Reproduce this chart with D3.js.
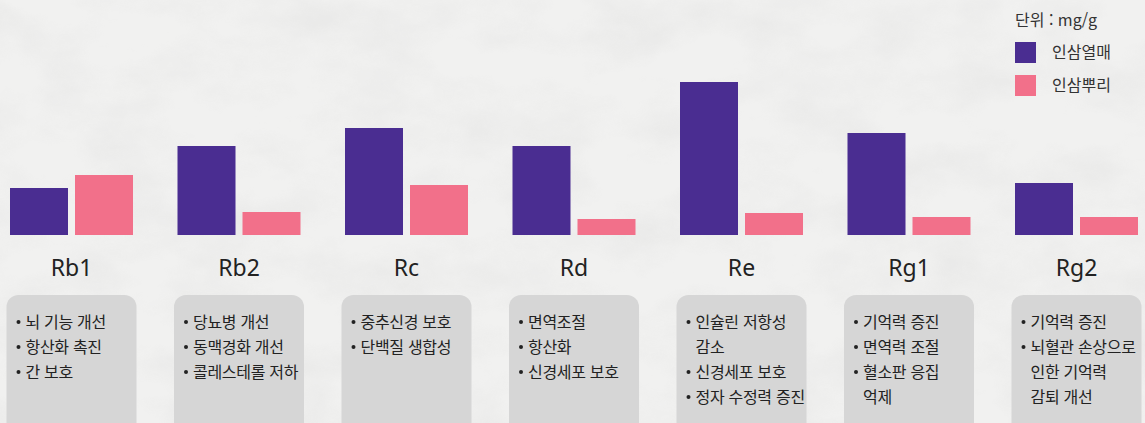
<!DOCTYPE html>
<html lang="ko">
<head>
    <meta charset="UTF-8">
    <title>인삼 부위별 진세노사이드 함량</title>
    <script src="https://d3js.org/d3.v7.min.js"></script>
    <style>
        html, body { margin: 0; padding: 0; background: #efefee; }
        svg { display: block; font-family: "Noto Sans CJK KR", "Noto Sans", sans-serif; }
    </style>
</head>
<body>
    <div id="chart"></div>
    <script>
        // Ginsenoside types
        const categories = ["Rb1", "Rb2", "Rc", "Rd", "Re", "Rg1", "Rg2"];
        const seriesNames = ["인삼열매", "인삼뿌리"];
        // mg/g
        const berryValues = [4.7, 8.9, 10.7, 8.9, 15.3, 10.2, 5.2];
        const rootValues = [6.0, 2.3, 5.0, 1.6, 2.2, 1.8, 1.8];
        const unitLabel = "단위 : mg/g";
        // effects listed under each bar group (wrapped lines kept together)
        const effects = [
            [["뇌 기능 개선"], ["항산화 촉진"], ["간 보호"]],
            [["당뇨병 개선"], ["동맥경화 개선"], ["콜레스테롤 저하"]],
            [["중추신경 보호"], ["단백질 생합성"]],
            [["면역조절"], ["항산화"], ["신경세포 보호"]],
            [["인슐린 저항성", "감소"], ["신경세포 보호"], ["정자 수정력 증진"]],
            [["기억력 증진"], ["면역력 조절"], ["혈소판 응집", "억제"]],
            [["기억력 증진"], ["뇌혈관 손상으로", "인한 기억력", "감퇴 개선"]]
        ];

        const width = 1145, height = 423;
        const colors = { "인삼열매": "#4a2d91", "인삼뿌리": "#f2708a" };

        const data = categories.map((c, i) => ({
            cat: c,
            values: [
                { key: seriesNames[0], value: berryValues[i] },
                { key: seriesNames[1], value: rootValues[i] }
            ]
        }));

        const svg = d3.select("#chart").append("svg")
            .attr("width", width)
            .attr("height", height);

        // stone-like background texture
        const defs = svg.append("defs");
        const filt = defs.append("filter").attr("id", "stone")
            .attr("x", 0).attr("y", 0).attr("width", "100%").attr("height", "100%");
        filt.append("feTurbulence")
            .attr("type", "fractalNoise")
            .attr("baseFrequency", "0.012 0.02")
            .attr("numOctaves", 5)
            .attr("seed", 7);
        filt.append("feColorMatrix")
            .attr("type", "matrix")
            .attr("values", "0 0 0 0 0.55  0 0 0 0 0.55  0 0 0 0 0.55  0 0 0 -0.9 0.55");

        svg.append("rect").attr("width", width).attr("height", height).attr("fill", "#f1f1f0");
        svg.append("rect").attr("width", width).attr("height", height)
            .attr("filter", "url(#stone)").attr("opacity", 0.35);

        // scales
        const x0 = d3.scaleBand()
            .domain(categories)
            .range([10, 1138])
            .paddingInner(44.5 / 167.5)
            .paddingOuter(0);

        const x1 = d3.scaleBand()
            .domain(seriesNames)
            .range([0, x0.bandwidth()])
            .paddingInner(7 / 65);

        const y = d3.scaleLinear()
            .domain([0, 16])
            .range([235, 75]);

        // bars
        const groups = svg.selectAll(".group")
            .data(data)
            .join("g")
            .attr("class", "group")
            .attr("transform", d => `translate(${x0(d.cat)},0)`);

        groups.selectAll("rect")
            .data(d => d.values)
            .join("rect")
            .attr("x", d => x1(d.key))
            .attr("y", d => y(d.value))
            .attr("width", x1.bandwidth())
            .attr("height", d => y(0) - y(d.value))
            .attr("fill", d => colors[d.key]);

        // category labels
        groups.append("text")
            .attr("x", x0.bandwidth() / 2)
            .attr("y", 276)
            .attr("text-anchor", "middle")
            .attr("font-size", 23)
            .attr("fill", "#222")
            .style("font-family", "'Noto Sans', sans-serif")
            .text(d => d.cat);

        // effect boxes
        const boxW = 130;
        groups.each(function (d, i) {
            const g = d3.select(this);
            const cx = x0.bandwidth() / 2;
            const bx = cx - boxW / 2;
            g.append("rect")
                .attr("x", bx)
                .attr("y", 295)
                .attr("width", boxW)
                .attr("height", 150)
                .attr("rx", 12)
                .attr("fill", "#d6d6d6");

            let line = 0;
            effects[i].forEach(item => {
                item.forEach((txt, j) => {
                    const ty = 328 + line * 25;
                    if (j === 0) {
                        g.append("circle")
                            .attr("cx", bx + 12)
                            .attr("cy", ty - 6)
                            .attr("r", 2)
                            .attr("fill", "#222");
                    }
                    g.append("text")
                        .attr("x", bx + 19)
                        .attr("y", ty)
                        .attr("font-size", 16)
                        .attr("letter-spacing", -0.3)
                        .attr("fill", "#222")
                        .text(txt);
                    line++;
                });
            });
        });

        // legend
        const legend = svg.append("g").attr("transform", "translate(1015,0)");
        legend.append("text")
            .attr("x", 0)
            .attr("y", 26)
            .attr("font-size", 16)
            .attr("fill", "#333")
            .text(unitLabel);

        const items = legend.selectAll(".item")
            .data(seriesNames)
            .join("g")
            .attr("class", "item")
            .attr("transform", (d, i) => `translate(0,${42 + i * 33})`);
        items.append("rect")
            .attr("width", 21)
            .attr("height", 21)
            .attr("fill", d => colors[d]);
        items.append("text")
            .attr("x", 37)
            .attr("y", 16)
            .attr("font-size", 16)
            .attr("fill", "#333")
            .text(d => d);
    </script>
</body>
</html>
